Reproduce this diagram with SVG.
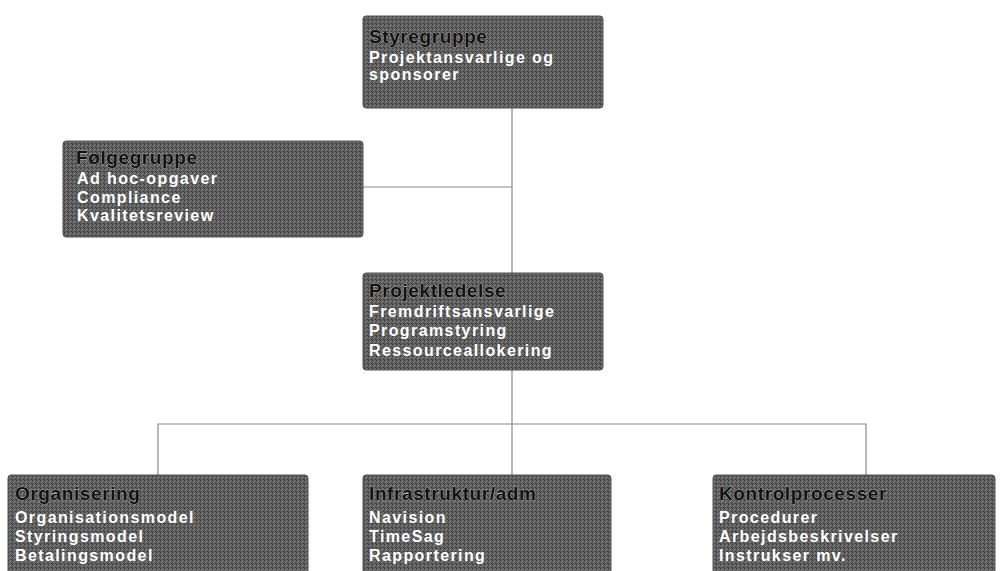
<svg xmlns="http://www.w3.org/2000/svg" width="1001" height="571" viewBox="0 0 1001 571">
<defs>
<pattern id="dither" width="4" height="4" patternUnits="userSpaceOnUse">
<rect width="4" height="4" fill="#5e5e5e"/>
<rect x="0" y="0" width="1" height="1" fill="#3a3a3a"/>
<rect x="2" y="1" width="1" height="1" fill="#8a8a8a"/>
<rect x="1" y="2" width="1" height="1" fill="#7a7a7a"/>
<rect x="3" y="3" width="1" height="1" fill="#404040"/>
<rect x="3" y="0" width="1" height="1" fill="#6e6e6e"/>
<rect x="0" y="3" width="1" height="1" fill="#4c4c4c"/>
</pattern>
</defs>
<style>
.box{fill:url(#dither);stroke:#555;stroke-width:1}
.title{font-family:"Liberation Sans",Arial,sans-serif;font-weight:bold;font-size:19px;fill:#111;letter-spacing:0.6px;stroke:#cfcfcf;stroke-width:0.6px;paint-order:stroke}
.item{font-family:"Liberation Sans",Arial,sans-serif;font-weight:bold;font-size:16px;fill:#fff;letter-spacing:1.4px}
.conn{fill:none;stroke:#8a8a8a;stroke-width:1.2}
</style>
<rect width="1001" height="571" fill="#fff"/>
<g id="connectors">
<line class="conn" x1="512" y1="108" x2="512" y2="273"/>
<line class="conn" x1="363" y1="187" x2="512" y2="187"/>
<line class="conn" x1="512" y1="370" x2="512" y2="475"/>
<polyline class="conn" points="158,475 158,424 866,424 866,475"/>
</g>
<g id="styregruppe">
<rect class="box" x="363" y="16" width="240" height="92" rx="3"/>
<text class="title" x="369" y="43">Styregruppe</text>
<text class="item" x="369" y="63">Projektansvarlige og</text>
<text class="item" x="369" y="80">sponsorer</text>
</g>
<g id="foelgegruppe">
<rect class="box" x="63" y="141" width="300" height="96" rx="3"/>
<text class="title" x="76" y="164">Følgegruppe</text>
<text class="item" x="77" y="184">Ad hoc-opgaver</text>
<text class="item" x="77" y="203">Compliance</text>
<text class="item" x="77" y="221">Kvalitetsreview</text>
</g>
<g id="projektledelse">
<rect class="box" x="363" y="273" width="240" height="97" rx="3"/>
<text class="title" x="369" y="297">Projektledelse</text>
<text class="item" x="369" y="317">Fremdriftsansvarlige</text>
<text class="item" x="369" y="336">Programstyring</text>
<text class="item" x="369" y="356">Ressourceallokering</text>
</g>
<g id="organisering">
<rect class="box" x="8" y="475" width="300" height="100" rx="3"/>
<text class="title" x="15" y="500">Organisering</text>
<text class="item" x="15" y="523">Organisationsmodel</text>
<text class="item" x="15" y="542">Styringsmodel</text>
<text class="item" x="15" y="561">Betalingsmodel</text>
</g>
<g id="infrastruktur">
<rect class="box" x="363" y="475" width="248" height="100" rx="3"/>
<text class="title" x="369" y="500">Infrastruktur/adm</text>
<text class="item" x="369" y="523">Navision</text>
<text class="item" x="369" y="542">TimeSag</text>
<text class="item" x="369" y="561">Rapportering</text>
</g>
<g id="kontrolprocesser">
<rect class="box" x="713" y="475" width="282" height="100" rx="3"/>
<text class="title" x="719" y="500">Kontrolprocesser</text>
<text class="item" x="719" y="523">Procedurer</text>
<text class="item" x="719" y="542">Arbejdsbeskrivelser</text>
<text class="item" x="719" y="561">Instrukser mv.</text>
</g>
</svg>
